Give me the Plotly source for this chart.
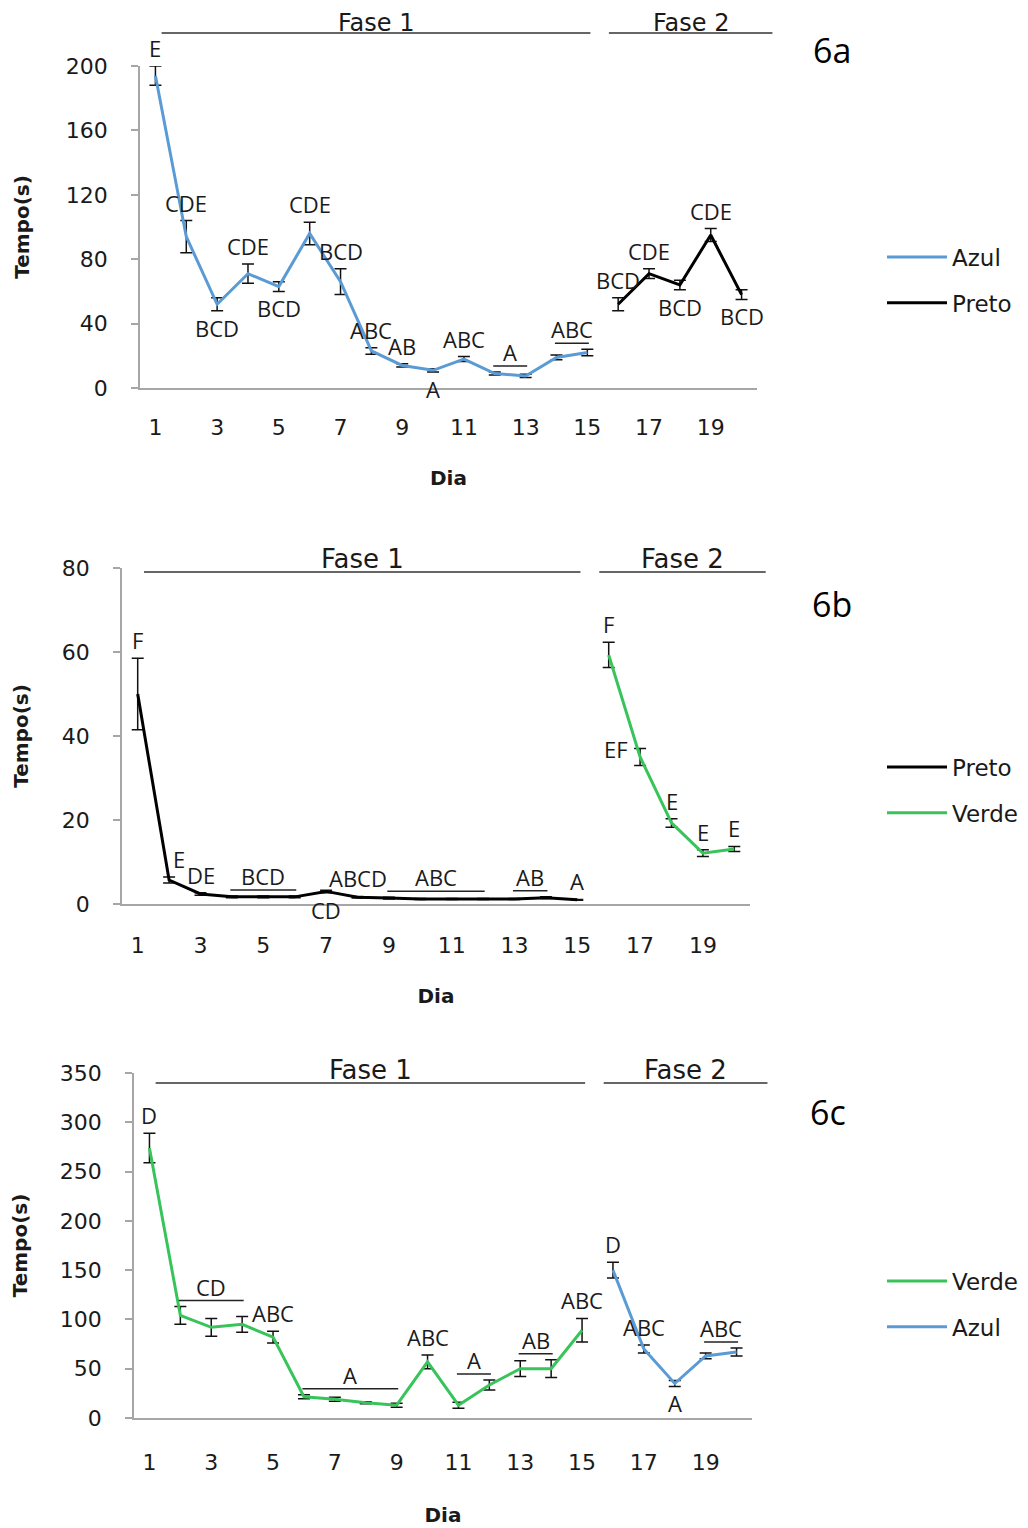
import plotly.graph_objects as go

W, H = 1028, 1528
PAGE_OFF = 8  # browser body margin compensation (px)

# ---------------- data ----------------
tick_days = [1, 3, 5, 7, 9, 11, 13, 15, 17, 19]

# 6a
a_azul_days = list(range(1, 16))
a_azul_mean = [194, 94, 52, 71, 63, 96, 66, 23, 14, 11, 18, 9, 7.5, 19, 22]
a_azul_err = [6, 10, 4, 6, 3, 7, 8, 2, 1, 1, 1.5, 1, 1, 1.5, 2]
a_preto_days = list(range(16, 21))
a_preto_mean = [52, 71, 64, 95, 58]
a_preto_err = [4, 3, 3, 4, 3]
a_labels = [(1, "E", "above"), (2, "CDE", "above"), (3, "BCD", "below"), (4, "CDE", "above"),
            (5, "BCD", "below"), (6, "CDE", "above"), (7, "BCD", "above"), (8, "ABC", "above"),
            (9, "AB", "above"), (10, "A", "below"), (11, "ABC", "above"), (16, "BCD", "above"),
            (17, "CDE", "above"), (18, "BCD", "below"), (19, "CDE", "above"), (20, "BCD", "below")]
a_groups = [(12, 13, "A"), (14, 15, "ABC")]

# 6b
b_preto_days = list(range(1, 16))
b_preto_mean = [50, 5.7, 2.4, 1.7, 1.7, 1.7, 3.0, 1.6, 1.4, 1.2, 1.2, 1.2, 1.2, 1.5, 1.0]
b_preto_err = [8.5, 0.7, 0.3, 0.2, 0.2, 0.2, 0.3, 0.2, 0.2, 0.1, 0.1, 0.1, 0.1, 0.2, 0.1]
b_verde_days = list(range(16, 21))
b_verde_mean = [59.3, 35, 19.3, 12.1, 13.1]
b_verde_err = [3, 2, 1, 0.8, 0.6]
b_labels = [(1, "F", "above"), (2, "E", "above_right"), (3, "DE", "above"), (7, "CD", "below"),
            (8, "ABCD", "above"), (15, "A", "above"), (16, "F", "above"), (17, "EF", "left"),
            (18, "E", "above"), (19, "E", "above"), (20, "E", "above")]
b_groups = [(4, 6, "BCD"), (9, 12, "ABC"), (13, 14, "AB")]

# 6c
c_verde_days = list(range(1, 16))
c_verde_mean = [274, 104, 92, 95, 82, 21.5, 19, 15.5, 13, 57, 13, 33.5, 50, 50, 89]
c_verde_err = [15, 9, 9, 8, 6, 2, 2, 1, 2, 7, 3, 5, 8, 9, 12]
c_azul_days = list(range(16, 21))
c_azul_mean = [150, 70, 35, 63, 67]
c_azul_err = [8, 4, 3, 3, 4]
c_labels = [(1, "D", "above"), (5, "ABC", "above"), (10, "ABC", "above"), (15, "ABC", "above"),
            (16, "D", "above"), (17, "ABC", "above"), (18, "A", "below")]
c_groups = [(2, 4, "CD"), (6, 9, "A"), (11, 12, "A"), (13, 14, "AB"), (19, 20, "ABC")]

phase_names = ["Fase 1", "Fase 2"]
phase_spans = [(1.2, 15.1), (15.7, 21.0)]

# ---------------- style ----------------
BLUE = "#5b9bd5"
GREEN = "#38c45a"
BLACK = "#000000"
AXIS = "#a6a6a6"
TXT = "#1a1a1a"
LETTER_FONT = dict(family="Open Sans", size=22, color=TXT)

panels = [
    dict(sfx="", frame=(140, 757, 66, 388), yr=200, dtick=40, tag="6a", tagpos=(832, 50),
         phase_px=33, phase_txt=10, phase_fs=24, legend="legend", legy=280,
         xstand=19, xtitle=32, ytitle=31,
         series=[("Azul", a_azul_days, a_azul_mean, a_azul_err, BLUE),
                 ("Preto", a_preto_days, a_preto_mean, a_preto_err, BLACK)],
         labels=a_labels, groups=a_groups),
    dict(sfx="2", frame=(122, 750, 568, 904), yr=80, dtick=20, tag="6b", tagpos=(832, 604),
         phase_px=-4, phase_txt=13, phase_fs=26, legend="legend2", legy=790,
         xstand=21, xtitle=32, ytitle=28,
         series=[("Preto", b_preto_days, b_preto_mean, b_preto_err, BLACK),
                 ("Verde", b_verde_days, b_verde_mean, b_verde_err, GREEN)],
         labels=b_labels, groups=b_groups),
    dict(sfx="3", frame=(134, 752, 1073, 1418), yr=350, dtick=50, tag="6c", tagpos=(828, 1112),
         phase_px=-10, phase_txt=13, phase_fs=26, legend="legend3", legy=1304,
         xstand=24, xtitle=34, ytitle=28,
         series=[("Verde", c_verde_days, c_verde_mean, c_verde_err, GREEN),
                 ("Azul", c_azul_days, c_azul_mean, c_azul_err, BLUE)],
         labels=c_labels, groups=c_groups),
]


def px_x(v):
    return (v - PAGE_OFF) / W


def px_y(v):
    return 1 - (v - PAGE_OFF) / H


fig = go.Figure()
layout = dict(width=W, height=H, margin=dict(l=0, r=0, t=0, b=0, autoexpand=False),
              paper_bgcolor="white", plot_bgcolor="white", showlegend=True)
annotations = []
shapes = []

for p in panels:
    l, r, t, b = p["frame"]
    xa, ya = "x" + p["sfx"], "y" + p["sfx"]
    layout["xaxis" + p["sfx"]] = dict(
        domain=[px_x(l), px_x(r)], range=[0.5, 20.5], anchor=ya,
        tickvals=tick_days, ticks="", showline=True, linecolor=AXIS, linewidth=1.5,
        showgrid=False, zeroline=False, ticklabelstandoff=p["xstand"],
        tickfont=dict(family="DejaVu Sans", size=22, color=TXT),
        title=dict(text="<b>Dia</b>", standoff=p["xtitle"],
                   font=dict(family="DejaVu Sans", size=20, color=TXT)))
    layout["yaxis" + p["sfx"]] = dict(
        domain=[px_y(b), px_y(t)], range=[0, p["yr"]], dtick=p["dtick"], anchor=xa,
        ticks="outside", ticklen=7, tickcolor=AXIS, tickwidth=1.5,
        showline=True, linecolor=AXIS, linewidth=1.5, showgrid=False, zeroline=False,
        ticklabelstandoff=19,
        tickfont=dict(family="DejaVu Sans", size=22, color=TXT),
        title=dict(text="<b>Tempo(s)</b>", standoff=p["ytitle"],
                   font=dict(family="DejaVu Sans", size=20, color=TXT)))
    layout[p["legend"]] = dict(
        x=px_x(882), y=px_y(p["legy"]), xanchor="left", yanchor="middle",
        font=dict(family="DejaVu Sans", size=23, color=TXT), tracegroupgap=13,
        itemwidth=60, bgcolor="rgba(0,0,0,0)")

    lookup = {}
    for name, d, m, e, col in p["series"]:
        fig.add_trace(go.Scatter(
            x=d, y=m, mode="lines", name=name, line=dict(color=col, width=3),
            error_y=dict(type="data", array=e, color="#111111", thickness=1.5, width=6),
            xaxis=xa, yaxis=ya, legend=p["legend"], legendgroup=p["tag"] + name))
        for di, mi, ei in zip(d, m, e):
            lookup[di] = (mi, ei)

    # significance letters
    for d, txt, side in p["labels"]:
        m, e = lookup[d]
        top = min(m + e, p["yr"])
        if side == "above":
            annotations.append(dict(x=d, y=top, xref=xa, yref=ya, text=txt, showarrow=False,
                                    xanchor="center", yanchor="bottom", yshift=1, font=LETTER_FONT))
        elif side == "above_right":
            annotations.append(dict(x=d, y=top, xref=xa, yref=ya, text=txt, showarrow=False,
                                    xanchor="center", yanchor="bottom", xshift=10, yshift=1,
                                    font=LETTER_FONT))
        elif side == "below":
            annotations.append(dict(x=d, y=max(m - e, 0), xref=xa, yref=ya, text=txt,
                                    showarrow=False, xanchor="center", yanchor="top", yshift=0,
                                    font=LETTER_FONT))
        else:
            annotations.append(dict(x=d, y=m, xref=xa, yref=ya, text=txt, showarrow=False,
                                    xanchor="right", yanchor="middle", xshift=-10, yshift=8,
                                    font=LETTER_FONT))
    for d0, d1, txt in p["groups"]:
        top = max(lookup[d][0] + lookup[d][1] for d in range(d0, d1 + 1))
        shapes.append(dict(type="line", xref=xa, yref=ya, x0=d0 - 0.05, x1=d1 + 0.05,
                           ysizemode="pixel", yanchor=top, y0=6, y1=6,
                           line=dict(color="#222222", width=1.5)))
        annotations.append(dict(x=(d0 + d1) / 2, y=top, xref=xa, yref=ya, text=txt,
                                showarrow=False, xanchor="center", yanchor="bottom", yshift=3,
                                font=LETTER_FONT))

    # phase headers
    for name, (s0, s1) in zip(phase_names, phase_spans):
        x0, x1 = (s0 - 0.5) / 20, (s1 - 0.5) / 20
        shapes.append(dict(type="line", xref=xa + " domain", yref=ya + " domain",
                           x0=x0, x1=x1, ysizemode="pixel", yanchor=1,
                           y0=p["phase_px"], y1=p["phase_px"],
                           line=dict(color="#333333", width=1.5)))
        annotations.append(dict(x=(x0 + x1) / 2, y=1, xref=xa + " domain", yref=ya + " domain",
                                text=name, showarrow=False, xanchor="center", yanchor="middle",
                                yshift=p["phase_px"] + p["phase_txt"],
                                font=dict(family="DejaVu Sans", size=p["phase_fs"], color=TXT)))

    # panel tag
    tx, ty = p["tagpos"]
    annotations.append(dict(x=px_x(tx), y=px_y(ty), xref="paper", yref="paper", text=p["tag"],
                            showarrow=False, xanchor="center", yanchor="middle",
                            font=dict(family="Open Sans", size=34, color="#000000")))

layout["annotations"] = annotations
layout["shapes"] = shapes
fig.update_layout(**layout)
fig.write_html("out.html")
